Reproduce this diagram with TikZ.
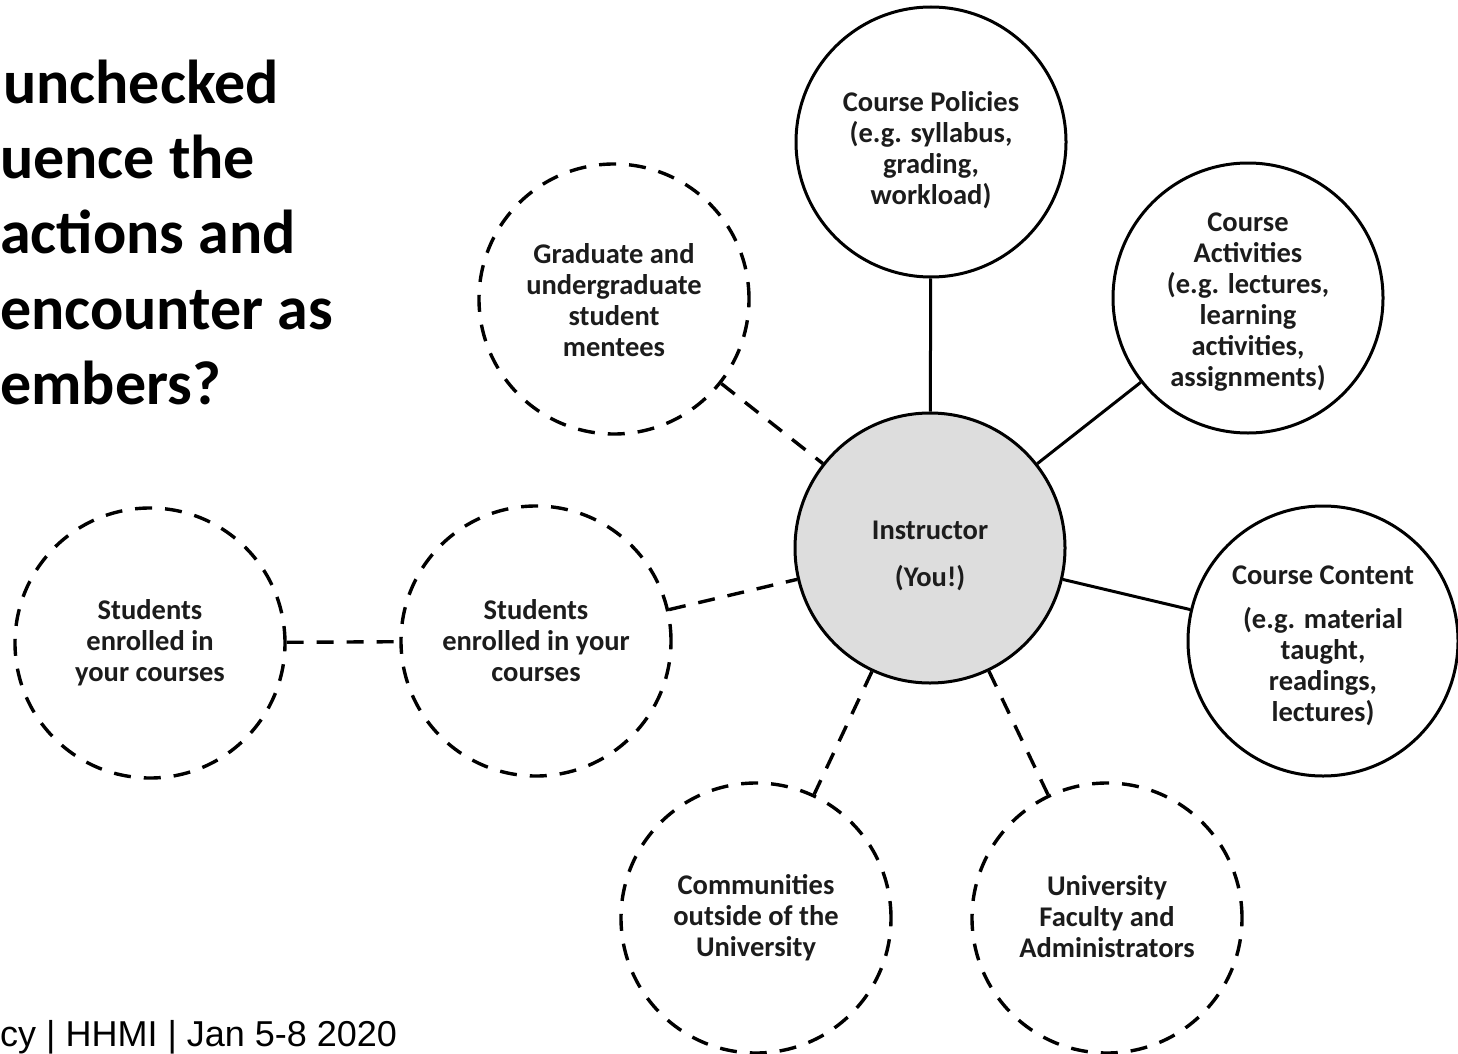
\documentclass[tikz,border=0pt]{standalone}
\usepackage{fontspec}
\setmainfont{Carlito}
\newfontfamily\footfont{Liberation Sans}
\usetikzlibrary{calc}
\definecolor{instrgray}{RGB}{221,221,221}
\definecolor{txt}{RGB}{28,28,28}
\begin{document}
\begin{tikzpicture}[x=1pt,y=-1pt,
  bubble/.style={circle,draw=black,line width=3pt,minimum size=270pt,inner sep=0pt},
  dashb/.style={bubble,line width=3.4pt,dash pattern=on 17pt off 13pt},
  btext/.style={align=center,inner sep=0pt,font=\bfseries\fontsize{28.5}{31}\selectfont,text=txt},
  link/.style={line width=3pt},
  dlink/.style={line width=3.4pt,dash pattern=on 17pt off 13pt},
  titleline/.style={anchor=base west,inner sep=0pt,font=\bfseries\fontsize{62}{75}\selectfont}]
\useasboundingbox[fill=white] (0,0) rectangle (1458,1054);

% title fragments
\node[titleline] (t1) at (3,103) {unchecked};
\node[titleline] (t2) at (0,178) {uence the};
\node[titleline] (t3) at (0,253) {actions and};
\node[titleline] (t4) at (0,329) {encounter as};
\node[titleline] (t5) at (0,404) {embers?};

% footer
\node[anchor=base west,inner sep=0pt,font=\footfont\fontsize{36}{40}\selectfont] (foot) at (0,1046) {cy | HHMI | Jan 5-8 2020};

% bubbles
\node[bubble,fill=instrgray] (instr) at (930,548) {};
\node[bubble] (pol) at (931,142) {};
\node[bubble] (act) at (1248,298) {};
\node[bubble] (cont) at (1323,641) {};
\node[dashb] (grad) at (614,299) {};
\node[dashb] (stmid) at (536,641) {};
\node[dashb] (stleft) at (150,643) {};
\node[dashb] (comm) at (756,918) {};
\node[dashb] (univ) at (1107,918) {};

% bubble texts
\node[btext] (instrT) at ($(instr)+(0,8)$) {Instructor\\[16pt](You!)};
\node[btext] (polT) at ($(pol)+(0,8)$) {Course Policies\\(e.g. syllabus,\\grading,\\workload)};
\node[btext] (actT) at ($(act)+(0,4.5)$) {Course\\Activities\\(e.g. lectures,\\learning\\activities,\\assignments)};
\node[btext] (contT) at ($(cont)+(0,5)$) {Course Content\\[13pt](e.g. material\\taught,\\readings,\\lectures)};
\node[btext] (gradT) at ($(grad)+(0,1.5)$) {Graduate and\\undergraduate\\student\\mentees};
\node[btext] (stmidT) at (stmid) {Students\\enrolled in your\\courses};
\node[btext] (stleftT) at (stleft) {Students\\enrolled in\\your courses};
\node[btext] (commT) at (comm) {Communities\\outside of the\\University};
\node[btext] (univT) at ($(univ)+(0,-1)$) {University\\Faculty and\\Administrators};

% connectors
\draw[link] (pol) -- (instr);
\draw[link] (act) -- (instr);
\draw[link] (cont) -- (instr);
\draw[dlink] (grad) -- (instr);
\draw[dlink] (stmid) -- (instr);
\draw[dlink] (stleft) -- (stmid);
\draw[dlink] (instr) -- (comm);
\draw[dlink] (instr) -- (univ);
\end{tikzpicture}
\end{document}
